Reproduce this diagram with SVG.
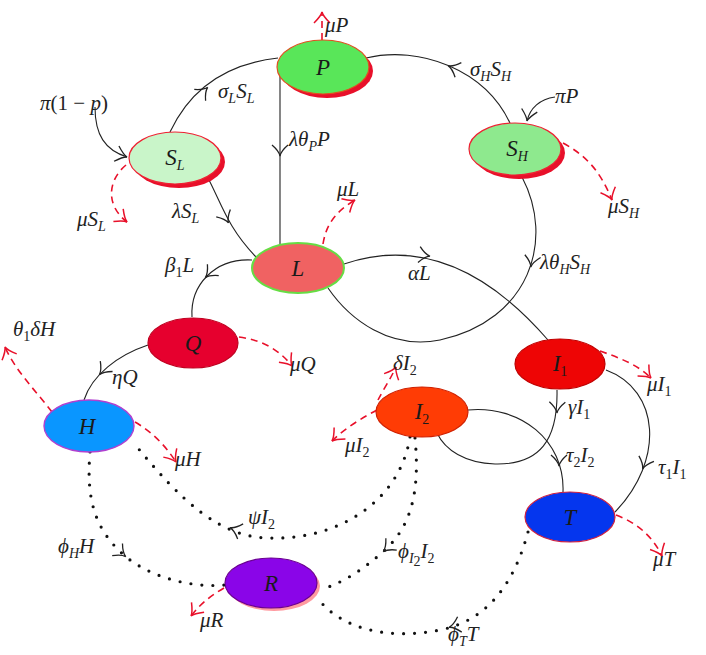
<svg xmlns="http://www.w3.org/2000/svg" width="706" height="655" viewBox="0 0 706 655">
<style>
.t{font-family:'Liberation Serif','DejaVu Serif',serif;font-style:italic;font-size:21px;fill:#222}
.n{font-family:'Liberation Serif','DejaVu Serif',serif;font-style:italic;font-size:23px;fill:#1a1a1a;text-anchor:middle}
.sb{font-size:14px}
.up{font-style:normal}
.e{fill:none;stroke:#222;stroke-width:1.1}
.d{fill:none;stroke:#e8102a;stroke-width:1.6;stroke-dasharray:7 5;marker-end:url(#ra)}
.o{fill:none;stroke:#111;stroke-width:3.2;stroke-linecap:round;stroke-dasharray:0 11}
.ch{fill:none;stroke:#222;stroke-width:1.3}
.sh{fill:#e8102a}
</style>
<defs>
<path id="chev" d="M-10,-8 Q-4,-1 1,0 Q-4,1 -10,8"/>
<marker id="ra" viewBox="-14 -10 16 20" refX="0" refY="0" markerWidth="16" markerHeight="20" markerUnits="userSpaceOnUse" orient="auto" overflow="visible">
<path d="M-11,-8 Q-4,-1 0,0 Q-4,1 -11,8" fill="none" stroke="#e8102a" stroke-width="1.5"/>
</marker>
<marker id="ba" viewBox="-14 -10 16 20" refX="0" refY="0" markerWidth="16" markerHeight="20" markerUnits="userSpaceOnUse" orient="auto" overflow="visible">
<path d="M-11,-8 Q-4,-1 0,0 Q-4,1 -11,8" fill="none" stroke="#222" stroke-width="1.3"/>
</marker>
</defs>

<g id="connectors">
<!-- solid transitions -->
<path class="e" d="M95,107 C95,135 105,150 127,157" marker-end="url(#ba)"/>
<path class="e" d="M170,132 C185,100 215,65 278,58"/>
<use href="#chev" class="ch" transform="translate(207,88) rotate(-45)"/>
<path class="e" d="M280,74 L280,245"/>
<use href="#chev" class="ch" transform="translate(280,155) rotate(90)"/>
<path class="e" d="M208,178 C222,205 228,228 256,257"/>
<use href="#chev" class="ch" transform="translate(228,222) rotate(62)"/>
<path class="e" d="M510,123 C485,70 420,45 366,58"/>
<use href="#chev" class="ch" transform="translate(449,66) rotate(-157)"/>
<path class="e" d="M555,97 C540,99 530,108 527,121" marker-end="url(#ba)"/>
<path class="e" d="M522,177 C555,240 530,320 440,340 C390,350 350,320 328,288"/>
<use href="#chev" class="ch" transform="translate(531,266) rotate(100)"/>
<path class="e" d="M344,264 C400,245 470,250 548,340"/>
<use href="#chev" class="ch" transform="translate(429,256) rotate(8)"/>
<path class="e" d="M252,260 C215,258 190,285 192,317"/>
<use href="#chev" class="ch" transform="translate(206,277) rotate(135)"/>
<path class="e" d="M148,345 C118,355 92,375 84,400"/>
<use href="#chev" class="ch" transform="translate(100,374) rotate(130)"/>
<path class="e" d="M557,390 C558,440 540,465 495,464 C465,463 445,450 437,433"/>
<use href="#chev" class="ch" transform="translate(557,412) rotate(92)"/>
<path class="e" d="M468,410 C520,405 565,440 563,492"/>
<use href="#chev" class="ch" transform="translate(559,465) rotate(90)"/>
<path class="e" d="M606,370 C660,390 665,460 615,512"/>
<use href="#chev" class="ch" transform="translate(643,468) rotate(110)"/>

<!-- dotted recovery flows -->
<path class="o" d="M90,452 C86,500 95,530 125,556 C150,577 190,588 225,585"/>
<use href="#chev" class="ch" transform="translate(125,556) rotate(40)"/>
<path class="o" d="M410,437 C400,500 340,540 270,538 C220,538 180,500 133,442"/>
<use href="#chev" class="ch" transform="translate(231,528) rotate(200)"/>
<path class="o" d="M415,438 C420,490 412,525 385,550 C365,568 345,582 320,590"/>
<use href="#chev" class="ch" transform="translate(384,551) rotate(137)"/>
<path class="o" d="M528,532 C515,580 490,620 440,630 C390,640 340,630 316,596"/>
<use href="#chev" class="ch" transform="translate(450,627) rotate(165)"/>

<!-- red dashed outflows -->
<path class="d" d="M322,40 L322,12"/>
<path class="d" d="M126,165 C108,180 105,205 127,222"/>
<path class="d" d="M563,143 C585,155 600,170 612,200"/>
<path class="d" d="M323,244 C326,225 335,212 355,200"/>
<path class="d" d="M239,337 C260,340 278,348 292,366"/>
<path class="d" d="M52,412 C35,390 15,370 5,347"/>
<path class="d" d="M135,422 C152,432 165,445 176,462"/>
<path class="d" d="M378,400 C383,390 390,380 396,367"/>
<path class="d" d="M377,410 C362,418 345,428 332,441"/>
<path class="d" d="M600,351 C620,358 638,365 651,378"/>
<path class="d" d="M616,515 C635,522 652,535 662,556"/>
<path class="d" d="M224,588 C212,595 202,602 191,616"/>
</g>

<!-- nodes -->
<g id="node-P">
<ellipse class="sh" cx="327" cy="71" rx="46" ry="27"/>
<ellipse cx="323" cy="67" rx="46" ry="27" fill="#59e659" stroke="#e05020" stroke-width="1.2"/>
<text class="n" x="323" y="75">P</text>
</g>
<g id="node-SL">
<ellipse class="sh" cx="179" cy="162" rx="46" ry="26"/>
<ellipse cx="175" cy="158" rx="46" ry="26" fill="#c9f5c9" stroke="#ee2233" stroke-width="1.2"/>
<text class="n" x="175" y="165">S<tspan class="sb" dy="5">L</tspan></text>
</g>
<g id="node-SH">
<ellipse class="sh" cx="519" cy="153" rx="46" ry="26"/>
<ellipse cx="515" cy="149" rx="46" ry="26" fill="#8ee98e" stroke="#ee2233" stroke-width="1.2"/>
<text class="n" x="517" y="156">S<tspan class="sb" dy="5">H</tspan></text>
</g>
<g id="node-L">
<ellipse cx="298" cy="268" rx="46" ry="25" fill="#f06262" stroke="#66dd44" stroke-width="2"/>
<text class="n" x="298" y="276">L</text>
</g>
<g id="node-Q">
<ellipse cx="193" cy="343" rx="45" ry="25" fill="#e6002e" stroke="#c00020" stroke-width="1.2"/>
<text class="n" x="193" y="351">Q</text>
</g>
<g id="node-H">
<ellipse cx="89" cy="426" rx="45" ry="26" fill="#0a96ff" stroke="#b040d0" stroke-width="1.4"/>
<text class="n" x="87" y="434">H</text>
</g>
<g id="node-I1">
<ellipse cx="560" cy="364" rx="45" ry="25" fill="#ee0505" stroke="#c00000" stroke-width="1.2"/>
<text class="n" x="560" y="371">I<tspan class="sb up" dy="5">1</tspan></text>
</g>
<g id="node-I2">
<ellipse cx="422" cy="412" rx="46" ry="25" fill="#ff3c05" stroke="#d02000" stroke-width="1.2"/>
<text class="n" x="422" y="419">I<tspan class="sb up" dy="5">2</tspan></text>
</g>
<g id="node-T">
<ellipse cx="570" cy="517" rx="45" ry="25" fill="#0536ee" stroke="#d02040" stroke-width="1.2"/>
<text class="n" x="570" y="525">T</text>
</g>
<g id="node-R">
<ellipse cx="274" cy="586" rx="46" ry="25" fill="#ff9aa0"/>
<ellipse cx="271" cy="583" rx="46" ry="25" fill="#8a05e8" stroke="#6a0090" stroke-width="1.2"/>
<text class="n" x="271" y="591">R</text>
</g>

<!-- labels -->
<g id="labels">
<text class="t" x="40" y="110">π<tspan class="up">(1 − </tspan>p<tspan class="up">)</tspan></text>
<text class="t" x="218" y="98">σ<tspan class="sb" dy="5">L</tspan><tspan dy="-5">S</tspan><tspan class="sb" dy="5">L</tspan></text>
<text class="t" x="289" y="146">λθ<tspan class="sb" dy="5">P</tspan><tspan dy="-5">P</tspan></text>
<text class="t" x="172" y="218">λS<tspan class="sb" dy="5">L</tspan></text>
<text class="t" x="77" y="226">μS<tspan class="sb" dy="5">L</tspan></text>
<text class="t" x="325" y="32">μP</text>
<text class="t" x="470" y="76">σ<tspan class="sb" dy="5">H</tspan><tspan dy="-5">S</tspan><tspan class="sb" dy="5">H</tspan></text>
<text class="t" x="555" y="103">πP</text>
<text class="t" x="608" y="213">μS<tspan class="sb" dy="5">H</tspan></text>
<text class="t" x="337" y="196">μL</text>
<text class="t" x="165" y="272">β<tspan class="sb up" dy="5">1</tspan><tspan dy="-5">L</tspan></text>
<text class="t" x="540" y="269">λθ<tspan class="sb" dy="5">H</tspan><tspan dy="-5">S</tspan><tspan class="sb" dy="5">H</tspan></text>
<text class="t" x="408" y="280">αL</text>
<text class="t" x="13" y="336">θ<tspan class="sb up" dy="5">1</tspan><tspan dy="-5">δH</tspan></text>
<text class="t" x="112" y="384">ηQ</text>
<text class="t" x="290" y="371">μQ</text>
<text class="t" x="393" y="370">δI<tspan class="sb up" dy="5">2</tspan></text>
<text class="t" x="647" y="391">μI<tspan class="sb up" dy="5">1</tspan></text>
<text class="t" x="568" y="414">γI<tspan class="sb up" dy="5">1</tspan></text>
<text class="t" x="175" y="466">μH</text>
<text class="t" x="345" y="452">μI<tspan class="sb up" dy="5">2</tspan></text>
<text class="t" x="566" y="462">τ<tspan class="sb up" dy="5">2</tspan><tspan dy="-5">I</tspan><tspan class="sb up" dy="5">2</tspan></text>
<text class="t" x="658" y="474">τ<tspan class="sb up" dy="5">1</tspan><tspan dy="-5">I</tspan><tspan class="sb up" dy="5">1</tspan></text>
<text class="t" x="248" y="524">ψI<tspan class="sb up" dy="5">2</tspan></text>
<text class="t" x="58" y="553">ϕ<tspan class="sb" dy="5">H</tspan><tspan dy="-5">H</tspan></text>
<text class="t" x="398" y="558">ϕ<tspan class="sb" dy="5">I</tspan><tspan class="sb up" font-size="10" dy="3">2</tspan><tspan dy="-8">I</tspan><tspan class="sb up" dy="5">2</tspan></text>
<text class="t" x="653" y="566">μT</text>
<text class="t" x="200" y="627">μR</text>
<text class="t" x="448" y="641">ϕ<tspan class="sb" dy="5">T</tspan><tspan dy="-5">T</tspan></text>
</g>
</svg>
